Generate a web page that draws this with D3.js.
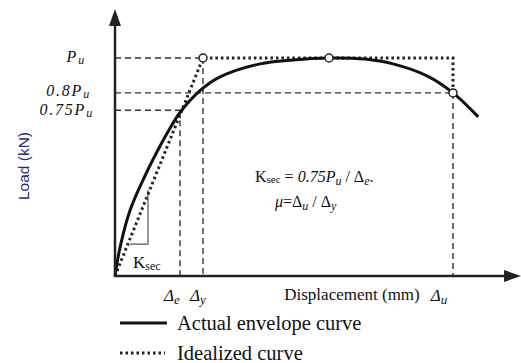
<!DOCTYPE html>
<html>
<head>
<meta charset="utf-8">
<script src="https://d3js.org/d3.v7.min.js"></script>
<style>
  body { margin: 0; background: #fff; }
  text { fill: #111; }
</style>
</head>
<body>
<div id="chart"></div>
<script>
// schematic values (load in % of Pu, displacement in arbitrary units)
var envelopeX = [0, 1.25, 3.75, 7, 10.5, 13.5, 16.25, 21.25, 26.25, 36.25, 44.5, 53.5, 62.5, 69.5, 78, 84.5, 90.8];
var envelopeY = [0, 13, 30, 44, 57, 67, 75, 85, 91.3, 97.3, 99.1, 100, 99.5, 97.3, 91.8, 84, 73];

var idealX = [0, 22, 84.5, 84.5];
var idealY = [0, 100, 100, 84];

var loadLevels = [100, 84, 76];          // Pu, 0.8Pu, 0.75Pu
var loadLabels = ["", "0.8", "0.75"];
var dispLevels = [16.25, 22, 84.5];      // Δe, Δy, Δu
var dispSubs = ["e", "y", "u"];

var markX = [22, 53.5, 84.5];
var markY = [100, 100, 84];

var svgWidth = 521;
var svgHeight = 363;
var origin = {x: 115, y: 276};
var serif = "'Liberation Serif', 'Times New Roman', serif";

var svg = d3.select("#chart")
    .append("svg")
    .attr("width", svgWidth)
    .attr("height", svgHeight)
    .style("font-family", serif);

var xScale = d3.scaleLinear().domain([0, 100]).range([origin.x, origin.x + 400]);
var yScale = d3.scaleLinear().domain([0, 100]).range([origin.y, 58]);

// dashed guide lines
var dash = svg.append("g")
    .attr("stroke", "#333")
    .attr("stroke-width", 1.4)
    .attr("stroke-dasharray", "6,4")
    .attr("fill", "none");

var hEnds = [22, 84.5, 16.25];
loadLevels.forEach(function(v, i) {
    dash.append("line")
        .attr("x1", xScale(0)).attr("x2", xScale(hEnds[i]))
        .attr("y1", yScale(v)).attr("y2", yScale(v));
});
var vTops = [76, 100, 84];
dispLevels.forEach(function(v, i) {
    dash.append("line")
        .attr("x1", xScale(v)).attr("x2", xScale(v))
        .attr("y1", yScale(vTops[i])).attr("y2", yScale(0));
});

// Ksec triangle
var tri = [[3.75, 14.6], [8.25, 14.6], [8.25, 39.5]];
svg.append("path")
    .attr("d", d3.line().x(d => xScale(d[0])).y(d => yScale(d[1]))(tri))
    .attr("fill", "none")
    .attr("stroke", "#555")
    .attr("stroke-width", 1.2);

// idealized curve
var idealData = idealX.map((x, i) => [x, idealY[i]]);
svg.append("path")
    .attr("d", d3.line().x(d => xScale(d[0])).y(d => yScale(d[1]))(idealData))
    .attr("fill", "none")
    .attr("stroke", "#222")
    .attr("stroke-width", 3)
    .attr("stroke-dasharray", "2.5,3");

// actual envelope curve
var envData = envelopeX.map((x, i) => [x, envelopeY[i]]);
svg.append("path")
    .attr("d", d3.line().x(d => xScale(d[0])).y(d => yScale(d[1])).curve(d3.curveCatmullRom)(envData))
    .attr("fill", "none")
    .attr("stroke", "#111")
    .attr("stroke-width", 3);

// axes with arrows
svg.append("line")
    .attr("x1", origin.x).attr("y1", origin.y)
    .attr("x2", origin.x).attr("y2", 24)
    .attr("stroke", "#222").attr("stroke-width", 2.5);
svg.append("path")
    .attr("d", `M${origin.x - 6},26 L${origin.x},9 L${origin.x + 6},26 Z`)
    .attr("fill", "#222");
svg.append("line")
    .attr("x1", origin.x - 1).attr("y1", origin.y)
    .attr("x2", 506).attr("y2", origin.y)
    .attr("stroke", "#222").attr("stroke-width", 2.5);
svg.append("path")
    .attr("d", `M504,${origin.y - 6} L521,${origin.y} L504,${origin.y + 6} Z`)
    .attr("fill", "#222");

// circle markers
svg.selectAll("circle.mark")
    .data(markX)
    .enter()
    .append("circle")
    .attr("class", "mark")
    .attr("cx", d => xScale(d))
    .attr("cy", (d, i) => yScale(markY[i]))
    .attr("r", 4)
    .attr("fill", "#fff")
    .attr("stroke", "#222")
    .attr("stroke-width", 1.5);

// load labels
var labelX = [86, 91, 94];
var labelDy = [4, 3, 5];
loadLevels.forEach(function(v, i) {
    var t = svg.append("text")
        .attr("x", labelX[i])
        .attr("y", yScale(v) + labelDy[i])
        .attr("text-anchor", "end")
        .attr("font-size", 16)
        .attr("font-style", "italic")
        .attr("letter-spacing", 1.8);
    t.append("tspan").text(loadLabels[i] + "P");
    t.append("tspan").attr("font-size", 12).attr("dy", 2).text("u");
});

// displacement labels
var dispOff = [0, 3, -6];
dispLevels.forEach(function(v, i) {
    var t = svg.append("text")
        .attr("x", xScale(v) - 8 + dispOff[i])
        .attr("y", 301)
        .attr("text-anchor", "middle")
        .attr("font-size", 17)
        .attr("font-style", "italic");
    t.append("tspan").text("Δ");
    t.append("tspan").attr("font-size", 13).attr("dy", 3).text(dispSubs[i]);
});

svg.append("text")
    .attr("x", 352).attr("y", 300)
    .attr("text-anchor", "middle")
    .attr("font-size", 17)
    .text("Displacement (mm)");

svg.append("text")
    .attr("transform", "translate(29, 166) rotate(-90)")
    .attr("text-anchor", "middle")
    .style("font-family", "'Liberation Sans', Arial, sans-serif")
    .attr("font-size", 15.5)
    .style("fill", "#2b2b78")
    .text("Load (kN)");

// Ksec label near triangle
var ks = svg.append("text").attr("x", 133).attr("y", 268).attr("font-size", 17);
ks.append("tspan").text("K");
ks.append("tspan").attr("font-size", 12).attr("dy", 2).text("sec");

// formulas
var f1 = svg.append("text").attr("x", 255).attr("y", 182).attr("font-size", 16);
f1.append("tspan").text("K");
f1.append("tspan").attr("font-size", 11).attr("dy", 1).text("sec");
f1.append("tspan").attr("dy", -1).text(" = ");
f1.append("tspan").attr("font-style", "italic").text("0.75P");
f1.append("tspan").attr("font-style", "italic").attr("font-size", 12).attr("dy", 3).text("u");
f1.append("tspan").attr("dy", -3).text(" / Δ");
f1.append("tspan").attr("font-style", "italic").attr("font-size", 12).attr("dy", 3).text("e");
f1.append("tspan").attr("dy", -3).text(".");

var f2 = svg.append("text").attr("x", 275).attr("y", 207).attr("font-size", 16);
f2.append("tspan").attr("font-style", "italic").text("μ");
f2.append("tspan").text("=Δ");
f2.append("tspan").attr("font-style", "italic").attr("font-size", 12).attr("dy", 3).text("u");
f2.append("tspan").attr("dy", -3).text(" / Δ");
f2.append("tspan").attr("font-style", "italic").attr("font-size", 12).attr("dy", 3).text("y");

// legend
var legend = svg.append("g");
legend.append("line")
    .attr("x1", 120).attr("x2", 167).attr("y1", 323).attr("y2", 323)
    .attr("stroke", "#111").attr("stroke-width", 3);
legend.append("text").attr("x", 177).attr("y", 330).attr("font-size", 20.5).text("Actual envelope curve");
legend.append("line")
    .attr("x1", 120).attr("x2", 165).attr("y1", 353).attr("y2", 353)
    .attr("stroke", "#222").attr("stroke-width", 3).attr("stroke-dasharray", "2.5,3");
legend.append("text").attr("x", 177).attr("y", 360).attr("font-size", 20.5).text("Idealized curve");
</script>
</body>
</html>
